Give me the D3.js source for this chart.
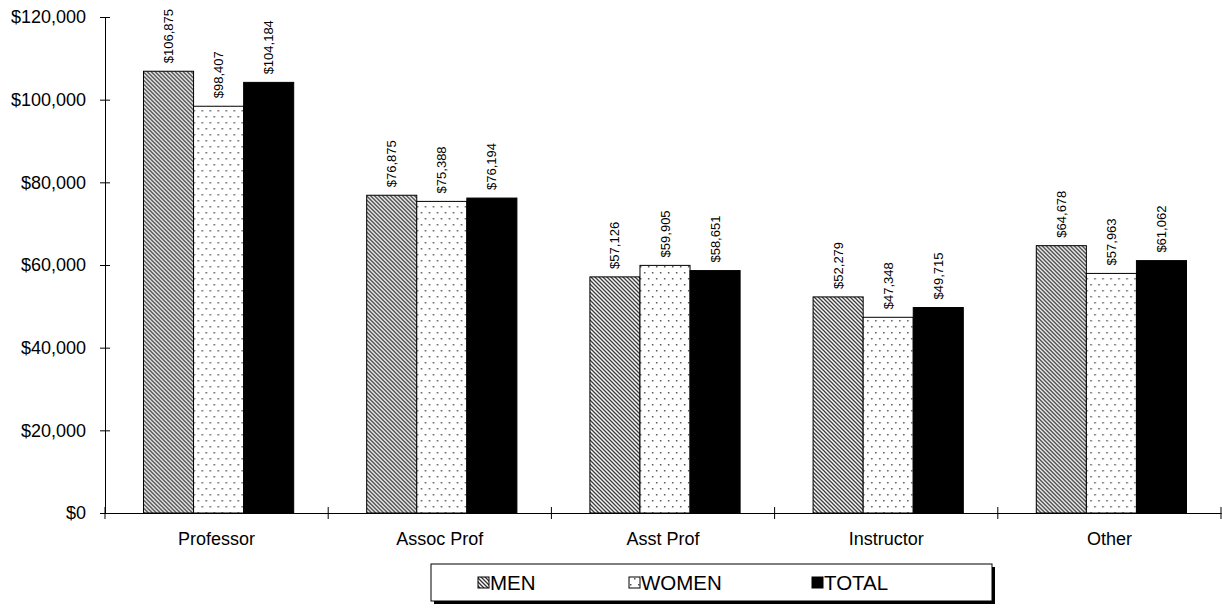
<!DOCTYPE html>
<html>
<head>
<meta charset="utf-8">
<script src="https://cdn.jsdelivr.net/npm/d3@7"></script>
<style>
  body { margin: 0; background: #fff; }
  svg { display: block; font-family: "Liberation Sans", Arial, sans-serif; }
</style>
</head>
<body>
<svg id="chart" width="1222" height="608"></svg>
<script>
const categories = ["Professor", "Assoc Prof", "Asst Prof", "Instructor", "Other"];
const seriesNames = ["MEN", "WOMEN", "TOTAL"];
const menValues = [106875, 76875, 57126, 52279, 64678];
const womenValues = [98407, 75388, 59905, 47348, 57963];
const totalValues = [104184, 76194, 58651, 49715, 61062];
const yTicks = [0, 20000, 40000, 60000, 80000, 100000, 120000];

const seriesValues = [menValues, womenValues, totalValues];
const data = categories.map((c, i) => ({
  cat: c,
  vals: seriesNames.map((s, j) => ({ key: s, value: seriesValues[j][i] }))
}));

const svg = d3.select("#chart");
const mLeft = 105, mRight = 1221, mTop = 17, mBottom = 513;

const defs = svg.append("defs");
const stripe = defs.append("pattern").attr("id", "pMen").attr("patternUnits", "userSpaceOnUse")
  .attr("width", 4).attr("height", 4);
stripe.append("rect").attr("width", 4).attr("height", 4).attr("fill", "#fff");
stripe.append("path").attr("d", "M-1,-1 L5,5 M-1,3 L1,5 M3,-1 L5,1")
  .attr("stroke", "#333").attr("stroke-width", 1.3);

const dots = defs.append("pattern").attr("id", "pWomen").attr("patternUnits", "userSpaceOnUse")
  .attr("width", 8).attr("height", 12);
dots.append("rect").attr("width", 8).attr("height", 12).attr("fill", "#fff");
dots.append("rect").attr("x", 2).attr("y", 2).attr("width", 1.5).attr("height", 1.5).attr("fill", "#555");
dots.append("rect").attr("x", 6).attr("y", 8).attr("width", 1.5).attr("height", 1.5).attr("fill", "#555");

const fills = { MEN: "url(#pMen)", WOMEN: "url(#pWomen)", TOTAL: "#000" };

const y = d3.scaleLinear().domain([0, 120000]).range([mBottom, mTop]);
const x0 = d3.scaleBand().domain(categories).range([mLeft + 2, mRight + 2]).paddingInner(0.327).paddingOuter(0.1635);
const x1 = d3.scaleBand().domain(seriesNames).range([0, x0.bandwidth()]);

// bars
const g = svg.append("g");
const groups = g.selectAll("g.cat").data(data).join("g")
  .attr("transform", d => `translate(${x0(d.cat)},0)`);
groups.selectAll("rect").data(d => d.vals).join("rect")
  .attr("x", d => x1(d.key))
  .attr("y", d => y(d.value))
  .attr("width", x1.bandwidth())
  .attr("height", d => y(0) - y(d.value))
  .attr("fill", d => fills[d.key])
  .attr("stroke", "#000").attr("stroke-width", 1);

const fmt = d3.format("$,");
groups.selectAll("text.val").data(d => d.vals).join("text")
  .attr("class", "val")
  .attr("transform", d => `translate(${x1(d.key) + x1.bandwidth() / 2 + 4.5},${y(d.value) - 8}) rotate(-90)`)
  .attr("text-anchor", "start")
  .attr("font-size", 13)
  .text(d => fmt(d.value));

// y axis
const yAxis = d3.axisLeft(y).tickValues(yTicks).tickFormat(fmt).tickSizeInner(5).tickSizeOuter(0).tickPadding(14);
const ya = svg.append("g").attr("transform", `translate(${mLeft},0)`).call(yAxis);
ya.select(".domain").attr("stroke", "#000");
ya.selectAll(".tick line").attr("x1", -5).attr("x2", 5).attr("stroke", "#000");
ya.selectAll(".tick text").attr("font-size", 18).attr("font-family", "Liberation Sans, Arial, sans-serif").attr("fill", "#000");

// x axis
const xScaleAxis = d3.scaleBand().domain(categories).range([mLeft, mRight]);
const xAxis = d3.axisBottom(xScaleAxis).tickSize(0).tickPadding(19);
const xa = svg.append("g").attr("transform", `translate(0,${mBottom})`).call(xAxis);
xa.select(".domain").attr("stroke", "#000");
xa.selectAll(".tick text").attr("font-size", 18).attr("font-family", "Liberation Sans, Arial, sans-serif").attr("fill", "#000");
const boundaries = categories.map(c => xScaleAxis(c)).concat([mRight]);
xa.selectAll("line.sep").data(boundaries).join("line").attr("class", "sep")
  .attr("x1", d => d).attr("x2", d => d).attr("y1", -6).attr("y2", 6).attr("stroke", "#000");

// legend
const lg = svg.append("g");
lg.append("rect").attr("x", 434).attr("y", 567).attr("width", 561).attr("height", 37).attr("fill", "#000");
lg.append("rect").attr("x", 431).attr("y", 564).attr("width", 561).attr("height", 37)
  .attr("fill", "#fff").attr("stroke", "#000").attr("stroke-width", 1);
const legPos = { MEN: 478, WOMEN: 629, TOTAL: 812 };
seriesNames.forEach(s => {
  lg.append("rect").attr("x", legPos[s]).attr("y", 577).attr("width", 11).attr("height", 11)
    .attr("fill", fills[s]).attr("stroke", "#000").attr("stroke-width", 1);
  lg.append("text").attr("x", legPos[s] + 12).attr("y", 590).attr("font-size", 20.5).text(s);
});
</script>
</body>
</html>
